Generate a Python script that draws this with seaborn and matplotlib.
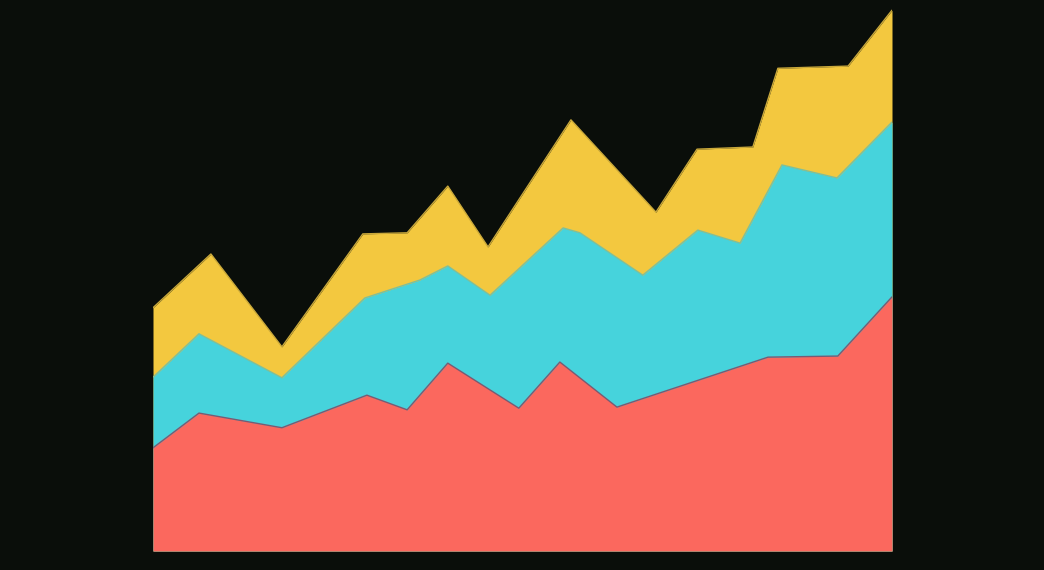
import numpy as np
import pandas as pd
import seaborn as sns
import matplotlib.pyplot as plt

# stacked boundaries (cumulative top of each layer)
red_x = [0, 1.12, 3.14, 5.21, 6.19, 7.18, 8.91, 9.91, 11.30, 14.98, 16.68, 18.0]
red_top = [19.0, 25.4, 22.7, 28.7, 26.0, 34.6, 26.3, 34.8, 26.5, 35.7, 35.9, 46.8]

cyan_x = [0, 1.12, 3.14, 5.16, 6.50, 7.18, 8.21, 9.99, 10.40, 11.93, 13.27, 14.30, 15.32, 16.66, 18.0]
cyan_top = [32.0, 40.0, 31.9, 46.6, 49.9, 52.5, 47.1, 59.5, 58.6, 50.8, 59.1, 56.7, 71.1, 68.7, 79.0]

yellow_x = [0, 1.41, 3.14, 5.11, 6.19, 7.18, 8.16, 10.18, 12.25, 13.25, 14.61, 15.22, 16.93, 18.0]
yellow_top = [44.8, 54.7, 37.6, 58.4, 58.6, 67.2, 56.0, 79.4, 62.4, 74.0, 74.4, 88.9, 89.3, 99.6]

bg = '#0a0e0a'
sns.set_theme(style='dark', rc={'axes.facecolor': bg, 'figure.facecolor': bg})

layers = [
    ('yellow', yellow_x, yellow_top, '#f3c83f', '#c9a83a'),
    ('cyan', cyan_x, cyan_top, '#46d3dc', '#7fbf9a'),
    ('red', red_x, red_top, '#fb685e', '#7a5a72'),
]

fig = plt.figure(figsize=(10.44, 5.70), dpi=100)
ax = fig.add_axes([153 / 1044, 19 / 570, (892 - 153) / 1044, (551 - 8) / 570])

for name, xs, ys, fill, edge in layers:
    df = pd.DataFrame({'x': xs, 'y': ys})
    ax.fill_between(df['x'], df['y'], 0, color=fill, linewidth=0, zorder=2)
    sns.lineplot(data=df, x='x', y='y', ax=ax, color=edge, linewidth=1.0,
                 estimator=None, sort=False, zorder=3)

ax.set_xlim(0, 18)
ax.set_ylim(0, 100)
ax.set_axis_off()

fig.savefig('out.png', dpi=100, facecolor=bg)
